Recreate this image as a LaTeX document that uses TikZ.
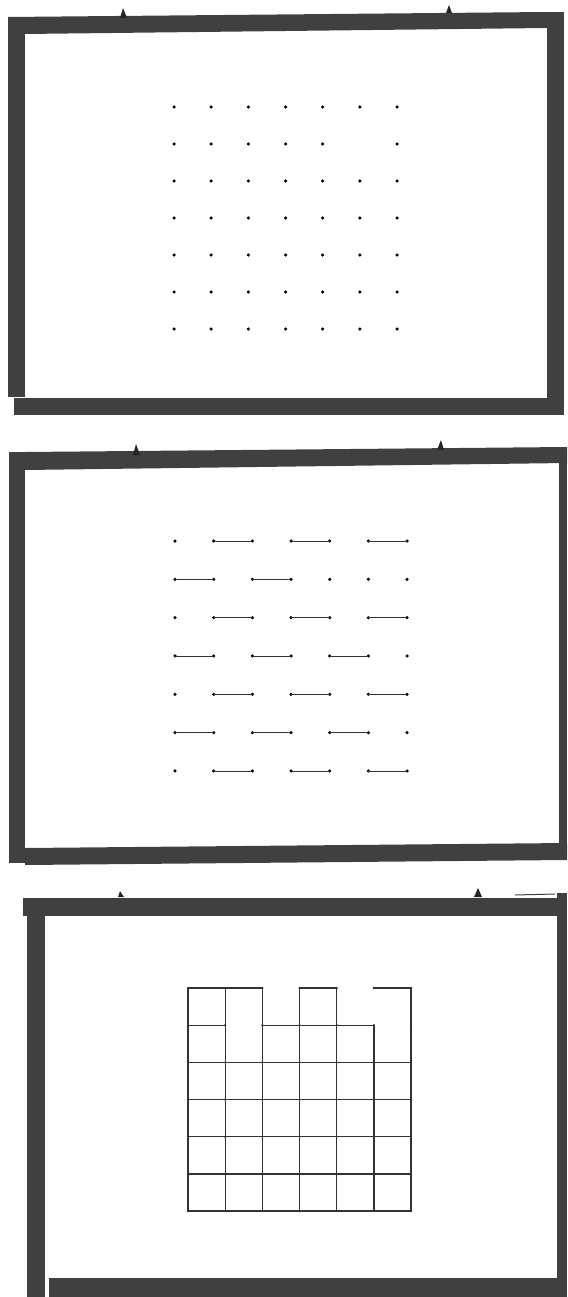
\documentclass[tikz,border=0pt]{standalone}
\usepackage{tikz}
\definecolor{boardgray}{RGB}{64,64,64}

\begin{document}
\begin{tikzpicture}[x=1pt,y=-1pt]
  \tikzset{gridvertex/.style={circle,fill=black,draw=none,inner sep=0pt,minimum size=3.5pt}}
  \tikzset{smallvertex/.style={circle,fill=black!85,draw=none,inner sep=0pt,minimum size=2.5pt}}
  \tikzset{matchedge/.style={draw=black!80,line width=0.9pt}}
  \tikzset{gridedge/.style={draw=black!80,line width=1.3pt,line cap=round}}
  \tikzset{boardbar/.style={fill=boardgray,draw=none}}
  \tikzset{peg/.style={fill=black!85,draw=none}}
  \useasboundingbox (0,0) rectangle (567,1297);
  % board 1: points only
  \fill[boardbar] (8,17) rectangle (25,397);
  \fill[boardbar] (8,17) -- (547,12) -- (547,28) -- (25,34) -- cycle;
  \fill[boardbar] (547,12) rectangle (564,415);
  \fill[boardbar] (14,398) rectangle (564,415);
  \fill[peg] (120,18) -- (123,8) -- (127,18) -- cycle;
  \fill[peg] (446,13) -- (449,5) -- (452,13) -- cycle;
  \foreach \i in {0,...,6}
    \foreach \j in {0,...,6} {
      \ifnum\i\j=15 \else
        \node[gridvertex] (a\i\j) at ({174+37.17*\j},{107+37*\i}) {};
      \fi
    }
  % board 2: points with matching
  \fill[boardbar] (9,452) rectangle (25,863);
  \fill[boardbar] (25,452) -- (567,447) -- (567,463) -- (25,470) -- cycle;
  \fill[boardbar] (559,447) rectangle (567,850);
  \fill[boardbar] (25,848) -- (567,843) -- (567,860) -- (25,865) -- cycle;
  \fill[peg] (133,455) -- (136,444) -- (140,455) -- cycle;
  \fill[peg] (437,450) -- (441,440) -- (444,450) -- cycle;
  \foreach \i in {0,...,6}
    \foreach \j in {0,...,6}
      \node[gridvertex] (b\i\j) at ({175+38.67*\j},{541+38.33*\i}) {};
  \foreach \i in {0,2,4,6}
    \foreach \j/\k in {1/2,3/4,5/6}
      \draw[matchedge] (b\i\j.center) -- (b\i\k.center);
  \foreach \i/\j/\k in {1/0/1,1/2/3,3/0/1,3/2/3,3/4/5,5/0/1,5/2/3,5/4/5}
    \draw[matchedge] (b\i\j.center) -- (b\i\k.center);
  % board 3: grid
  \fill[boardbar] (23,898) rectangle (557,916);
  \fill[boardbar] (27,898) rectangle (45,1297);
  \fill[boardbar] (557,893) rectangle (567,1297);
  \fill[boardbar] (49,1278) rectangle (557,1297);
  \fill[peg] (118,897) -- (120,891) -- (124,897) -- cycle;
  \fill[peg] (474,897) -- (478,888) -- (482,897) -- cycle;
  \draw[boardgray,line width=1pt] (515,895) -- (555,894);
  \foreach \i in {0,...,6}
    \foreach \j in {0,...,6}
      \node[smallvertex] (c\i\j) at ({188+37.17*\j},{988+37.17*\i}) {};
  \foreach \j/\k in {0/1,1/2,3/4,5/6}
    \draw[gridedge] (c0\j.center) -- (c0\k.center);
  \foreach \j/\k in {0/1,2/3,3/4,4/5}
    \draw[gridedge] (c1\j.center) -- (c1\k.center);
  \foreach \i in {2,...,6}
    \foreach \j/\k in {0/1,1/2,2/3,3/4,4/5,5/6}
      \draw[gridedge] (c\i\j.center) -- (c\i\k.center);
  \foreach \j in {0,1,2,3,4,6}
    \draw[gridedge] (c0\j.center) -- (c1\j.center);
  \foreach \j in {0,...,6}
    \foreach \i/\m in {1/2,2/3,3/4,4/5,5/6}
      \draw[gridedge] (c\i\j.center) -- (c\m\j.center);
\end{tikzpicture}
\end{document}
